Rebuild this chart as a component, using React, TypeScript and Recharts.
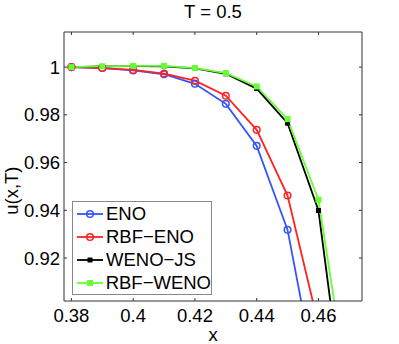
import React from "react";
import { LineChart, Line, XAxis, YAxis } from "recharts";

const xValues = [0.38, 0.39, 0.4, 0.41, 0.42, 0.43, 0.44, 0.45, 0.46, 0.47];
const enoValues = [1.0, 0.9996, 0.9986, 0.997, 0.993, 0.9846, 0.967, 0.9318, 0.864, null];
const rbfEnoValues = [1.0, 0.9996, 0.9988, 0.9973, 0.9943, 0.988, 0.9737, 0.9462, 0.892, null];
const wenoJsValues = [1.0, 1.0003, 1.0004, 1.0003, 0.9995, 0.9972, 0.991, 0.9765, 0.9399, 0.841];
const rbfWenoValues = [1.0, 1.0003, 1.0005, 1.0005, 0.9996, 0.9975, 0.9919, 0.9782, 0.9444, 0.861];

const xTicks = [0.38, 0.4, 0.42, 0.44, 0.46];
const yTicks = [0.92, 0.94, 0.96, 0.98, 1];
const xDomain = [0.3776, 0.4741];
const yDomain = [0.902, 1.0147];

const data = xValues.map((x, i) => ({
  x,
  eno: enoValues[i],
  rbfEno: rbfEnoValues[i],
  wenoJs: wenoJsValues[i],
  rbfWeno: rbfWenoValues[i],
}));

const BLUE = "#3355ff";
const RED = "#ff2222";
const BLACK = "#000000";
const GREEN = "#66ff33";
const AXIS = "#333333";
const FONT = "'Liberation Sans', Arial, sans-serif";
const FS = 18.5;

const series = [
  { key: "eno", name: "ENO", color: BLUE, marker: "circle" },
  { key: "rbfEno", name: "RBF−ENO", color: RED, marker: "circle" },
  { key: "wenoJs", name: "WENO−JS", color: BLACK, marker: "smallSquare" },
  { key: "rbfWeno", name: "RBF−WENO", color: GREEN, marker: "square" },
];

const Marker = ({ cx, cy, kind, color }: any) => {
  if (cx == null || cy == null) return null;
  if (kind === "circle")
    return <circle cx={cx} cy={cy} r={3.3} fill="none" stroke={color} strokeWidth={1.5} />;
  const s = kind === "square" ? 6 : 5;
  return <rect x={cx - s / 2} y={cy - s / 2} width={s} height={s} fill={color} />;
};

// tick props: x/y sit on the axis line because tickSize and tickMargin are 0
const BottomTick = ({ x, y, payload }: any) => (
  <g>
    <line x1={x} y1={y} x2={x} y2={y - 3} stroke={AXIS} strokeWidth={1} />
    <text x={x} y={y + 21} textAnchor="middle" fontSize={FS} fontFamily={FONT} fill="#000">
      {payload.value}
    </text>
  </g>
);

const TopTick = ({ x, y }: any) => (
  <line x1={x} y1={y} x2={x} y2={y + 3} stroke={AXIS} strokeWidth={1} />
);

const LeftTick = ({ x, y, payload }: any) => (
  <g>
    <line x1={x} y1={y} x2={x + 3} y2={y} stroke={AXIS} strokeWidth={1} />
    <text x={x - 4} y={y + 6.5} textAnchor="end" fontSize={FS} fontFamily={FONT} fill="#000">
      {payload.value}
    </text>
  </g>
);

const RightTick = ({ x, y }: any) => (
  <line x1={x} y1={y} x2={x - 3} y2={y} stroke={AXIS} strokeWidth={1} />
);

const LegendBox = () => (
  <div
    style={{
      position: "absolute",
      left: 72,
      top: 201,
      border: "1px solid #888",
      background: "#fff",
      width: 140,
      height: 94,
      boxSizing: "border-box",
      padding: "1px 0 0 4px",
      fontFamily: FONT,
      fontSize: FS,
    }}
  >
    {series.map((s) => (
      <div key={s.key} style={{ display: "flex", alignItems: "center", height: 22.8 }}>
        <svg width={26} height={12} style={{ marginRight: 3 }}>
          <line x1={0} y1={6} x2={26} y2={6} stroke={s.color} strokeWidth={1.8} />
          <Marker cx={13} cy={6} kind={s.marker} color={s.color} />
        </svg>
        <span style={{ lineHeight: 1 }}>{s.name}</span>
      </div>
    ))}
  </div>
);

export default function App() {
  return (
    <div style={{ position: "absolute", left: 0, top: 0, width: 399, height: 344, background: "#fff" }}>
      <LineChart
        width={399}
        height={344}
        data={data}
        margin={{ top: 31, right: 36, bottom: 42, left: 63 }}
      >
        <XAxis
          dataKey="x"
          type="number"
          domain={xDomain}
          ticks={xTicks}
          allowDataOverflow
          height={1}
          tickSize={0}
          tickMargin={0}
          tickLine={false}
          tick={<BottomTick />}
          axisLine={{ stroke: AXIS }}
          label={{ value: "x", position: "bottom", offset: 26, fontSize: FS, fontFamily: FONT, fill: "#000" }}
        />
        <XAxis
          xAxisId="top"
          dataKey="x"
          orientation="top"
          type="number"
          domain={xDomain}
          ticks={xTicks}
          allowDataOverflow
          height={1}
          tickSize={0}
          tickMargin={0}
          tickLine={false}
          tick={<TopTick />}
          axisLine={{ stroke: AXIS }}
          label={{ value: "T = 0.5", position: "top", offset: 13, fontSize: FS, fontFamily: FONT, fill: "#000" }}
        />
        <YAxis
          type="number"
          domain={yDomain}
          ticks={yTicks}
          allowDataOverflow
          width={1}
          tickSize={0}
          tickMargin={0}
          tickLine={false}
          tick={<LeftTick />}
          axisLine={{ stroke: AXIS }}
          label={{
            value: "u(x,T)",
            angle: -90,
            position: "left",
            offset: 52,
            fontSize: FS,
            fontFamily: FONT,
            fill: "#000",
          }}
        />
        <YAxis
          yAxisId="right"
          orientation="right"
          type="number"
          domain={yDomain}
          ticks={yTicks}
          allowDataOverflow
          width={1}
          tickSize={0}
          tickMargin={0}
          tickLine={false}
          tick={<RightTick />}
          axisLine={{ stroke: AXIS }}
        />
        {series.map((s) => (
          <Line
            key={s.key}
            dataKey={s.key}
            name={s.name}
            stroke={s.color}
            strokeWidth={1.8}
            isAnimationActive={false}
            connectNulls={false}
            dot={(p: any) => <Marker key={`${s.key}-${p.index}`} cx={p.cx} cy={p.cy} kind={s.marker} color={s.color} />}
            activeDot={false}
          />
        ))}
      </LineChart>
      <LegendBox />
    </div>
  );
}
